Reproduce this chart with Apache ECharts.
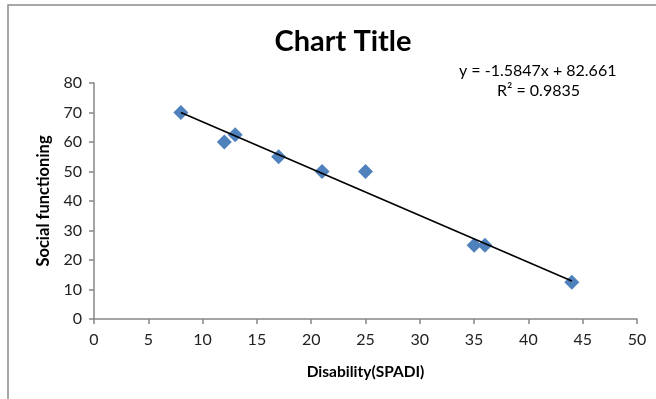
<!DOCTYPE html>
<html>
<head>
<meta charset="utf-8">
<script src="https://cdn.jsdelivr.net/npm/echarts@6/dist/echarts.min.js"></script>
<style>html,body{margin:0;padding:0;background:#fff}#c{width:656px;height:399px}</style>
</head>
<body>
<div id="c"></div>
<script>
// Data
var disability = [8, 12, 13, 17, 21, 25, 35, 36, 44];
var socialFunctioning = [70, 60, 62.5, 55, 50, 50, 25, 25, 12.5];
var trendX = [8, 44];
var trendY = [70.0, 12.9];
var equationText = 'y = -1.5847x + 82.661';
var r2Text = 'R² = 0.9835';
var xTicks = [0, 5, 10, 15, 20, 25, 30, 35, 40, 45, 50];
var yTicks = [0, 10, 20, 30, 40, 50, 60, 70, 80];

var pts = disability.map(function (x, i) { return [x, socialFunctioning[i]]; });
var trend = trendX.map(function (x, i) { return [x, trendY[i]]; });

var font = 'Lato, "Open Sans", "Noto Sans", sans-serif';
var chart = echarts.init(document.getElementById('c'), null, {renderer: 'canvas'});
chart.setOption({
  animation: false,
  backgroundColor: '#fff',
  title: {
    text: 'Chart Title', left: 338, top: 22, textAlign: 'center',
    textStyle: {fontFamily: font, fontSize: 29, fontWeight: 'bold', color: '#000'}
  },
  grid: {left: 94, right: 19, top: 83, bottom: 80, containLabel: false},
  xAxis: {
    type: 'value', min: xTicks[0], max: xTicks[xTicks.length - 1], interval: 5,
    name: 'Disability(SPADI)', nameLocation: 'middle', nameGap: 45,
    nameTextStyle: {fontFamily: font, fontSize: 15.5, fontWeight: 'bold', color: '#000'},
    axisLine: {show: true, lineStyle: {color: '#868686', width: 1.5}},
    axisTick: {show: true, inside: false, length: 5, lineStyle: {color: '#868686', width: 1.5}},
    axisLabel: {fontFamily: font, fontSize: 16, color: '#222', margin: 13},
    splitLine: {show: false}
  },
  yAxis: {
    type: 'value', min: yTicks[0], max: yTicks[yTicks.length - 1], interval: 10,
    name: 'Social functioning', nameLocation: 'middle', nameGap: 42, nameRotate: 90,
    nameTextStyle: {fontFamily: font, fontSize: 16.5, fontWeight: 'bold', color: '#000'},
    axisLine: {show: true, lineStyle: {color: '#868686', width: 1.5}},
    axisTick: {show: true, inside: false, length: 5, lineStyle: {color: '#868686', width: 1.5}},
    axisLabel: {fontFamily: font, fontSize: 16, color: '#222', margin: 12},
    splitLine: {show: false}
  },
  series: [
    {
      type: 'line', data: trend, symbol: 'none', silent: true,
      lineStyle: {color: '#000', width: 1.6}, z: 3
    },
    {
      type: 'scatter', data: pts, symbol: 'diamond', symbolSize: 15,
      itemStyle: {color: '#4F81BD', opacity: 1}, z: 2
    }
  ],
  graphic: [
    {type: 'rect', shape: {x: 8, y: 5, width: 700, height: 450}, style: {fill: 'none', stroke: '#8a8a8a', lineWidth: 1.5}, silent: true},
    {type: 'text', left: 459, top: 63, style: {text: equationText, font: '16px ' + font, fill: '#000'}},
    {type: 'text', left: 497, top: 83, style: {text: r2Text, font: '16px ' + font, fill: '#000'}}
  ]
});
</script>
</body>
</html>
